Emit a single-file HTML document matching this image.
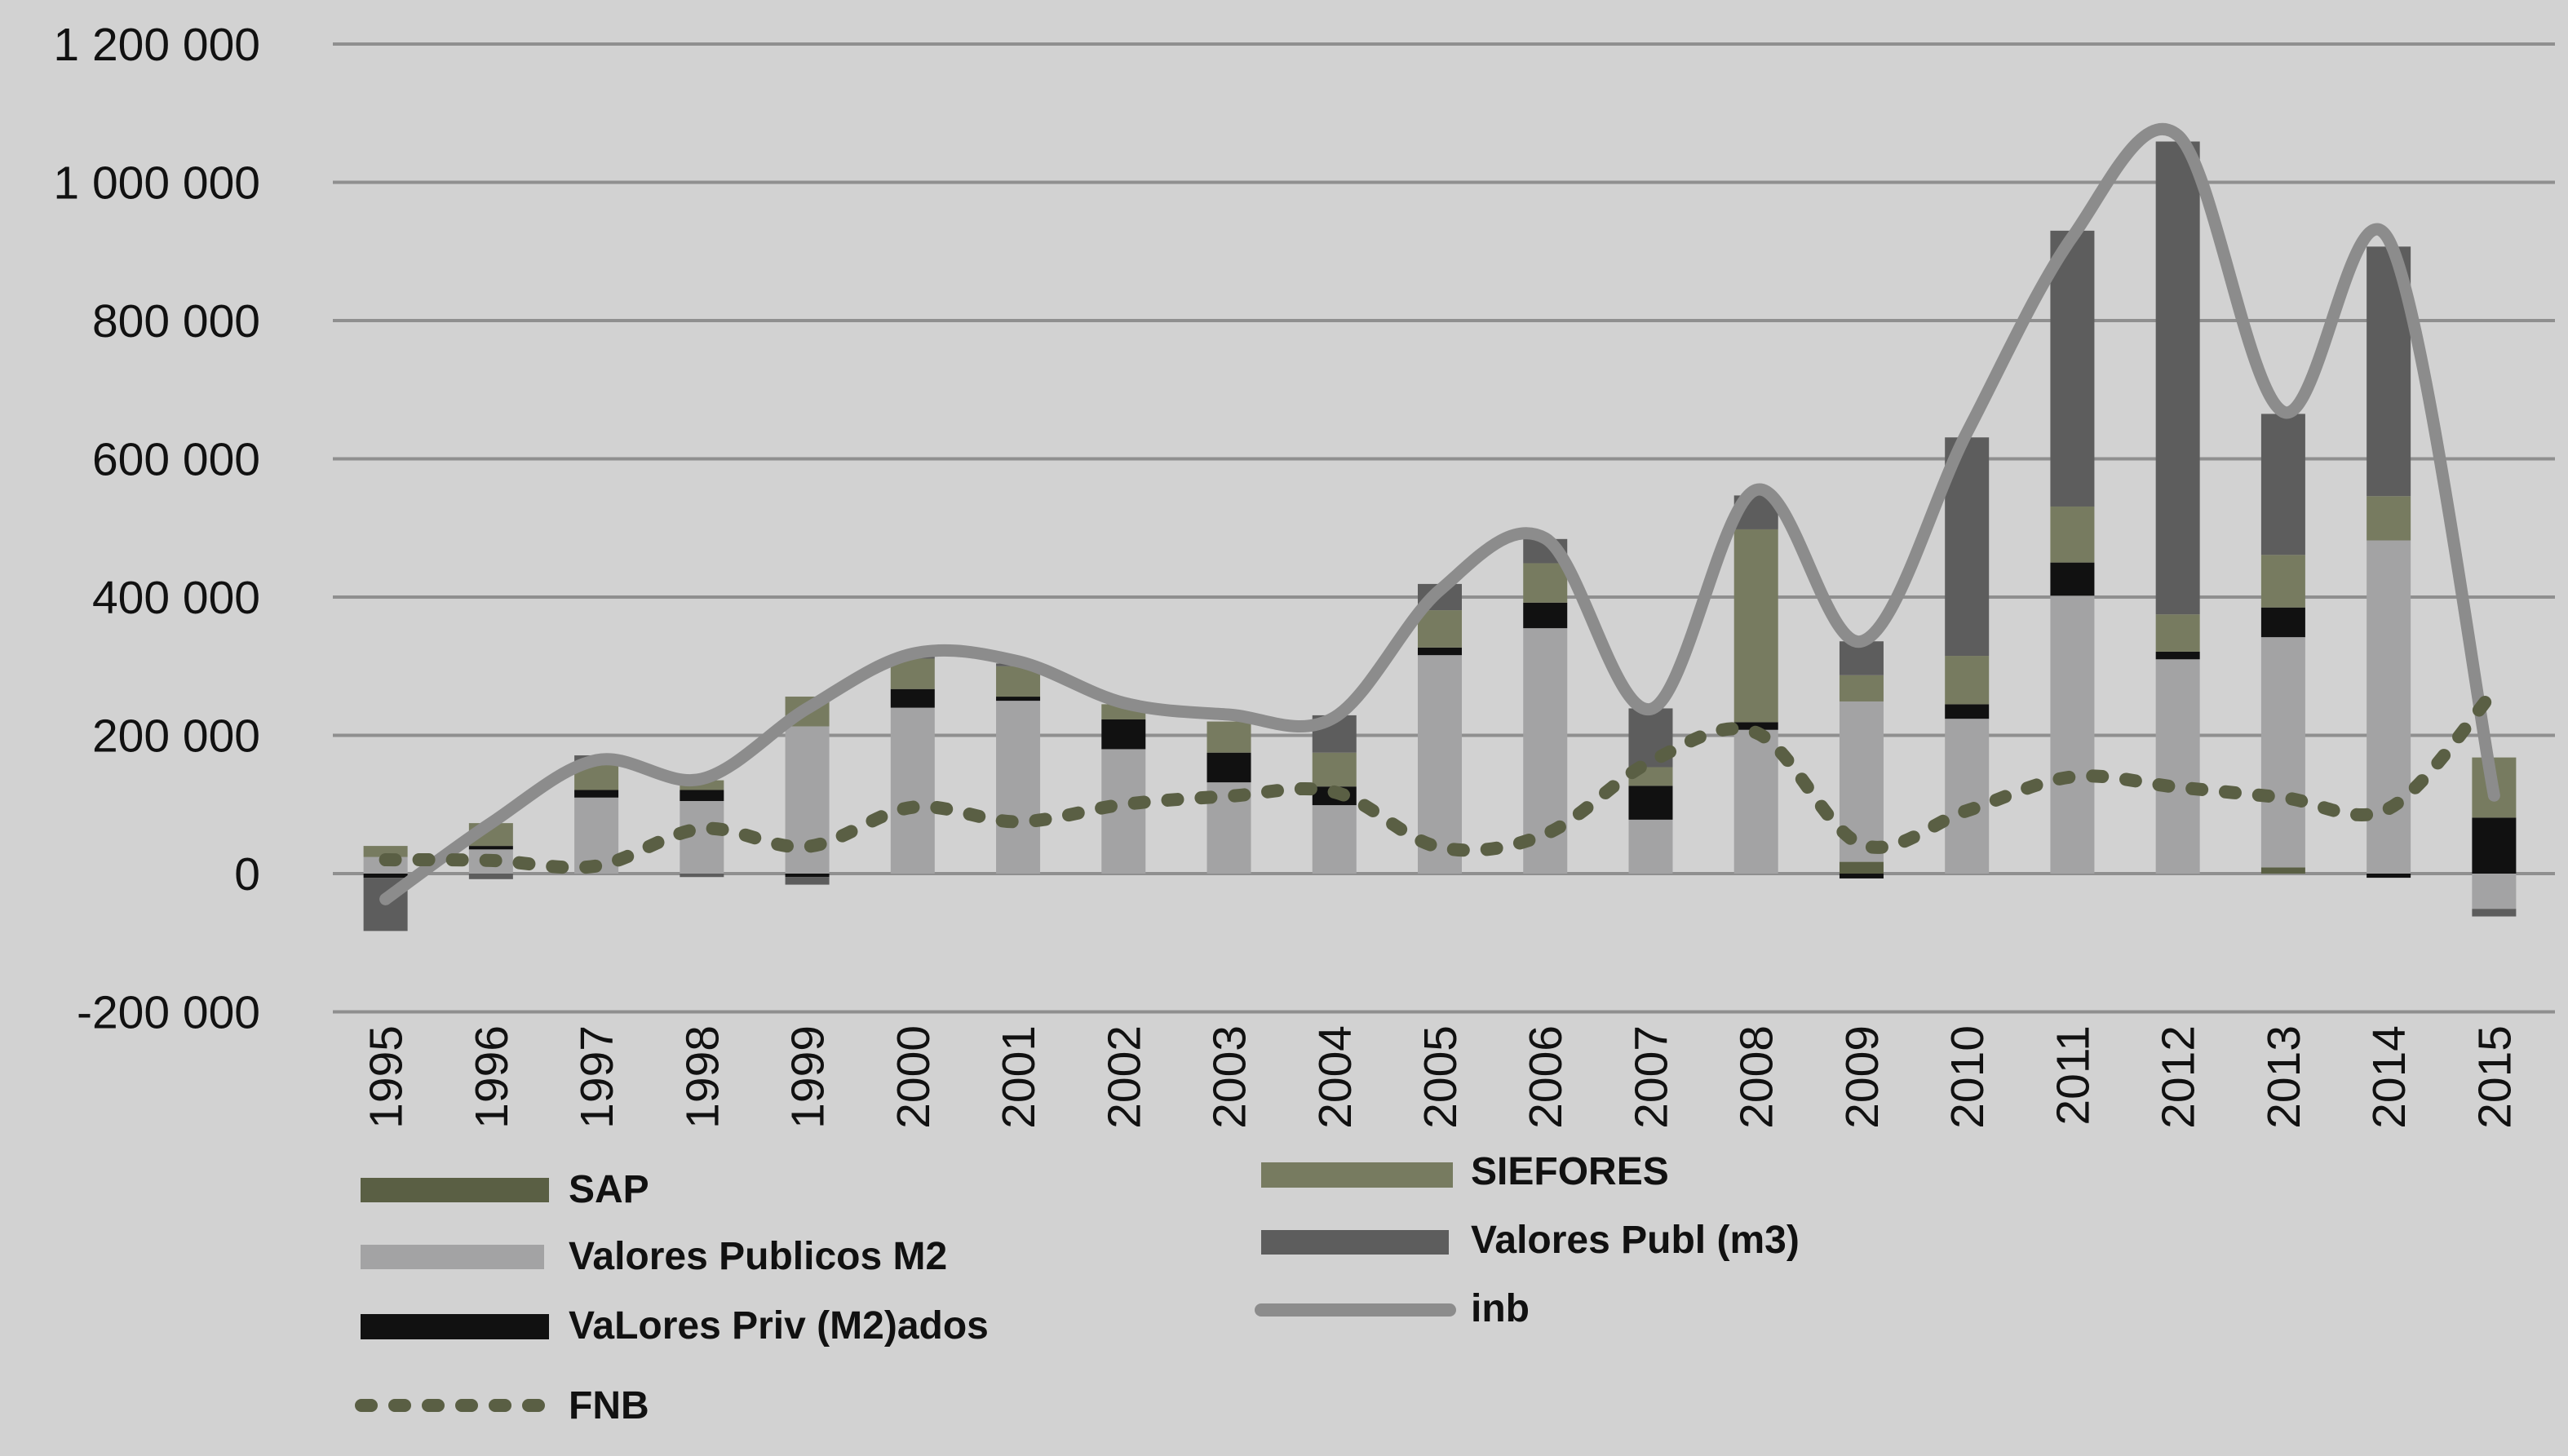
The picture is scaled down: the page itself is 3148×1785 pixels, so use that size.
<!DOCTYPE html>
<html><head><meta charset="utf-8"><style>
html,body{margin:0;padding:0;background:#d2d2d2;}
svg{display:block;font-family:"Liberation Sans",Arial,sans-serif;}
</style></head><body>
<svg id="chart" width="3148" height="1785" viewBox="0 0 3148 1785" xmlns="http://www.w3.org/2000/svg">
<rect x="0" y="0" width="3148" height="1785" fill="#d2d2d2"/>
<g id="grid"></g>
<g id="yaxis"></g>
<g id="bars"></g>
<g id="lines"></g>
<g id="xaxis"></g>
<g id="legend" font-weight="bold" font-size="48" fill="#111">
  <g>
    <rect x="442" y="1444" width="231" height="30" fill="#5a5f44"/>
    <text x="697" y="1474">SAP</text></g>
  <g>
    <rect x="442" y="1526" width="225" height="30" fill="#a3a3a4"/>
    <text x="697" y="1556">Valores Publicos M2</text></g>
  <g>
    <rect x="442" y="1611" width="231" height="31" fill="#111111"/>
    <text x="697" y="1641">VaLores Priv (M2)ados</text></g>
  <g>
    <line x1="435" y1="1723" x2="665" y2="1723" stroke="#5a5f44" stroke-width="16" stroke-dasharray="12 29" stroke-linecap="round" transform="translate(8,0)"/>
    <text x="697" y="1739">FNB</text></g>
  <g>
    <rect x="1546" y="1425" width="235" height="31" fill="#777b60"/>
    <text x="1803" y="1452">SIEFORES</text></g>
  <g>
    <rect x="1546" y="1508" width="230" height="30" fill="#5d5d5d"/>
    <text x="1803" y="1536">Valores Publ (m3)</text></g>
  <g>
    <line x1="1546" y1="1606" x2="1777" y2="1606" stroke="#8c8c8c" stroke-width="16" stroke-linecap="round"/>
    <text x="1803" y="1620">inb</text></g>
</g>
</svg>
<script>
const years = ['1995','1996','1997','1998','1999','2000','2001','2002','2003','2004','2005','2006','2007','2008','2009','2010','2011','2012','2013','2014','2015'];
const sap      = [0,0,0,0,0,0,0,0,0,0,0,0,0,0,17000,0,0,0,9000,0,0];
const pubM2    = [24000,35000,110000,105000,213000,240000,250000,180000,132000,99000,316000,355000,78000,208000,232000,224000,402000,310000,333000,482000,-51000];
const privM2   = [-6000,5000,11000,16000,-5000,27000,6000,43000,43000,27000,11000,37000,49000,11000,-7000,21000,48000,11000,43000,-6000,81000];
const siefores = [16000,33000,37000,14000,43000,44000,44000,22000,45000,49000,54000,57000,27000,279000,38000,70000,81000,54000,76000,64000,87000];
const publM3   = [-77000,-8000,13000,-5000,-11000,4000,4000,0,0,54000,38000,35000,85000,49000,49000,316000,399000,684000,204000,361000,-11000];
const inb      = [-37000,73000,164000,137000,239000,318000,307000,247000,230000,226000,410000,485000,238000,555000,336000,638000,921000,1068000,668000,917000,113000];
const fnb      = [20000,19000,11000,65000,39000,96000,75000,100000,112000,118000,38000,57000,162000,204000,42000,91000,140000,125000,110000,94000,264000];
const yTicks   = [1200000,1000000,800000,600000,400000,200000,0,-200000];
const yTickLabels = ['1 200 000','1 000 000','800 000','600 000','400 000','200 000','0','-200 000'];

const NS='http://www.w3.org/2000/svg';
const plotL=408, plotR=3122, yTop=54, yStep=169.5;
const catW=(plotR-plotL)/years.length, barW=54;
function xPos(i){return plotL+catW*(i+0.5);}
function yPos(v){return yTop+(1200000-v)/200000*yStep;}
function mk(tag,attrs,parent){const e=document.createElementNS(NS,tag);for(const k in attrs)e.setAttribute(k,attrs[k]);parent.appendChild(e);return e;}

const grid=document.getElementById('grid'), yaxis=document.getElementById('yaxis');
yTicks.forEach((t,i)=>{
  const l=mk('line',{x1:plotL,x2:plotR+10,y1:yPos(t),y2:yPos(t),stroke:'#8f8f8f','stroke-width':4},grid);
  
  
  const tx=mk('text',{x:319,y:yPos(t)+20,'text-anchor':'end','font-size':57,fill:'#111'},yaxis);
  tx.textContent=yTickLabels[i];
  
  
});

const xaxis=document.getElementById('xaxis');
years.forEach((y,i)=>{
  const x=xPos(i)+20, yy=1257;
  const t=mk('text',{x:x,y:yy,'text-anchor':'end','font-size':57,fill:'#111',transform:`rotate(-90 ${x} ${yy})`},xaxis);
  t.textContent=y;
  
  
});

const series=[[sap,'#5a5f44','sap'],[pubM2,'#a3a3a4','valores-publicos-m2'],[privM2,'#111111','valores-priv'],[siefores,'#777b60','siefores'],[publM3,'#5d5d5d','valores-publ-m3']];
const bars=document.getElementById('bars');
years.forEach((y,i)=>{
  let pos=0,neg=0;
  series.forEach(([arr,col,nm])=>{
    const v=arr[i]; if(!v) return;
    let a,b;
    if(v>0){a=pos;b=pos+v;pos=b;}else{a=neg;b=neg+v;neg=b;}
    const y1=yPos(Math.max(a,b)), y2=yPos(Math.min(a,b));
    const r=mk('rect',{x:xPos(i)-barW/2,y:y1,width:barW,height:y2-y1,fill:col},bars);
    
    
  });
});

function smoothPath(vals){
  const p=vals.map((v,i)=>[xPos(i),yPos(v)]);
  let d=`M${p[0][0]},${p[0][1]}`;
  for(let i=0;i<p.length-1;i++){
    const p0=p[Math.max(0,i-1)],p1=p[i],p2=p[i+1],p3=p[Math.min(p.length-1,i+2)];
    const c1=[p1[0]+(p2[0]-p0[0])/6,p1[1]+(p2[1]-p0[1])/6];
    const c2=[p2[0]-(p3[0]-p1[0])/6,p2[1]-(p3[1]-p1[1])/6];
    d+=` C${c1[0]},${c1[1]} ${c2[0]},${c2[1]} ${p2[0]},${p2[1]}`;
  }
  return d;
}
const lines=document.getElementById('lines');
const inbL=mk('path',{d:smoothPath(inb),fill:'none',stroke:'#8c8c8c','stroke-width':15,'stroke-linecap':'round','stroke-linejoin':'round'},lines);


const fnbL=mk('path',{d:smoothPath(fnb),fill:'none',stroke:'#5a5f44','stroke-width':16,'stroke-dasharray':'12 29','stroke-linecap':'round'},lines);


</script>
</body></html>
